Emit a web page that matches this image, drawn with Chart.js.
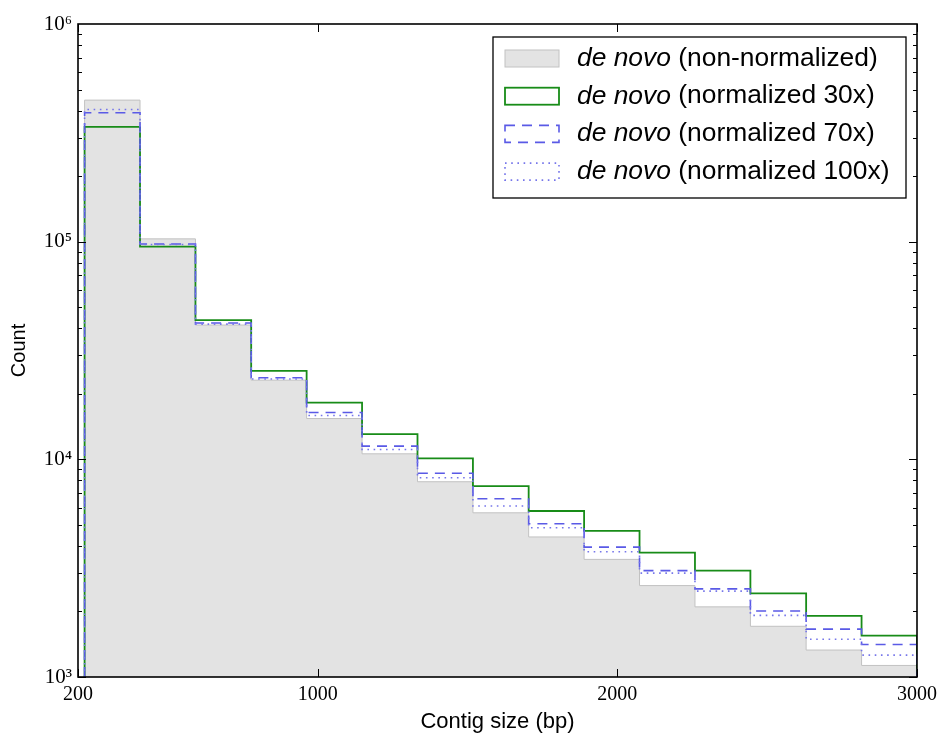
<!DOCTYPE html>
<html>
<head>
<meta charset="utf-8">
<script src="https://cdn.jsdelivr.net/npm/chart.js@4.4.1/dist/chart.umd.min.js"></script>
<style>
  html, body { margin: 0; padding: 0; background: #fff; }
  canvas { display: block; }
</style>
</head>
<body>
<canvas id="histChart" width="941" height="740"></canvas>
<script>
// bin edges (bp) and counts per bin
const binEdges = [222, 407, 592, 778, 963, 1148, 1333, 1518, 1704, 1889, 2074, 2259, 2444, 2630, 2815, 3000];
const countsRaw  = [447000, 103000, 41400, 23100, 15400, 10600, 7890, 5680, 4400, 3470, 2630, 2100, 1710, 1330, 1130];
const counts30x  = [337000, 94800, 43600, 25500, 18200, 13060, 10100, 7540, 5790, 4690, 3730, 3080, 2420, 1910, 1550];
const counts70x  = [391000, 97500, 42300, 23700, 16400, 11500, 8630, 6590, 5060, 3950, 3080, 2540, 2010, 1660, 1410];
const counts100x = [405000, 97000, 41800, 23400, 15900, 11100, 8230, 6100, 4850, 3760, 3000, 2480, 1920, 1490, 1260];
const seriesLabels = [
  "de novo (non-normalized)",
  "de novo (normalized 30x)",
  "de novo (normalized 70x)",
  "de novo (normalized 100x)"
];
const xTicks = [200, 1000, 2000, 3000];
const yTicks = [1000, 10000, 100000, 1000000];
const yMin = 1000;
const yMax = 1000000;

const SUP = { 3: "\u00b3", 4: "\u2074", 5: "\u2075", 6: "\u2076" };

// turn bin counts into step outline points
function stepPoints(counts) {
  const pts = [{ x: binEdges[0], y: yMin }];
  counts.forEach((c, i) => pts.push({ x: binEdges[i], y: c }));
  pts.push({ x: binEdges[binEdges.length - 1], y: counts[counts.length - 1] });
  pts.push({ x: binEdges[binEdges.length - 1], y: yMin });
  return pts;
}

// frame + inside ticks like matplotlib
const frameTicks = {
  id: "frameTicks",
  afterDatasetsDraw(chart) {
    const { ctx, chartArea: a, scales } = chart;
    const xs = scales.x, ys = scales.y;
    ctx.save();
    ctx.strokeStyle = "#000";
    ctx.lineWidth = 1;
    ctx.beginPath();
    xTicks.forEach(v => {
      const px = Math.round(xs.getPixelForValue(v)) + 0.5;
      ctx.moveTo(px, a.bottom); ctx.lineTo(px, a.bottom - 8);
      ctx.moveTo(px, a.top); ctx.lineTo(px, a.top + 8);
    });
    for (let d = 3; d < 6; d++) {
      for (let m = 1; m <= 9; m++) {
        const v = m * Math.pow(10, d);
        const py = Math.round(ys.getPixelForValue(v)) + 0.5;
        const len = m === 1 ? 8 : 4;
        ctx.moveTo(a.left, py); ctx.lineTo(a.left + len, py);
        ctx.moveTo(a.right, py); ctx.lineTo(a.right - len, py);
      }
    }
    ctx.stroke();
    ctx.lineWidth = 1.6;
    ctx.strokeRect(a.left, a.top, a.right - a.left, a.bottom - a.top);
    ctx.restore();
  }
};

// legend with italic "de novo"
const boxLegend = {
  id: "boxLegend",
  afterDraw(chart) {
    const { ctx, chartArea: a } = chart;
    const bx = a.left + 415, by = a.top + 13, bw = 413, bh = 161;
    ctx.save();
    ctx.fillStyle = "#fff";
    ctx.fillRect(bx, by, bw, bh);
    ctx.lineWidth = 1.3;
    ctx.strokeStyle = "#000";
    ctx.strokeRect(bx, by, bw, bh);
    chart.data.datasets.forEach((ds, i) => {
      const cy = by + 21.5 + i * 37.7;
      const hx = bx + 12, hw = 54, hh = 17;
      ctx.setLineDash(ds.borderDash || []);
      ctx.lineWidth = ds.borderWidth;
      ctx.strokeStyle = ds.borderColor;
      if (ds.fill) {
        ctx.fillStyle = ds.backgroundColor;
        ctx.fillRect(hx, cy - hh / 2, hw, hh);
      }
      ctx.strokeRect(hx, cy - hh / 2, hw, hh);
      ctx.setLineDash([]);
      const cut = ds.label.indexOf(" (");
      const ital = ds.label.slice(0, cut);
      const rest = ds.label.slice(cut);
      ctx.fillStyle = "#000";
      ctx.textBaseline = "middle";
      ctx.textAlign = "left";
      ctx.font = "italic 26.4px 'Liberation Sans', Arial, sans-serif";
      ctx.fillText(ital, bx + 84, cy);
      const w = ctx.measureText(ital).width;
      ctx.font = "26.4px 'Liberation Sans', Arial, sans-serif";
      ctx.fillText(rest, bx + 84 + w, cy);
    });
    ctx.restore();
  }
};

new Chart(document.getElementById("histChart"), {
  type: "line",
  data: {
    datasets: [
      {
        label: seriesLabels[0], data: stepPoints(countsRaw), order: 4,
        borderColor: "#c2c2c2", backgroundColor: "#e3e3e3", borderWidth: 1, fill: "start"
      },
      {
        label: seriesLabels[1], data: stepPoints(counts30x), order: 3,
        borderColor: "#188c18", borderWidth: 1.8, fill: false
      },
      {
        label: seriesLabels[2], data: stepPoints(counts70x), order: 2,
        borderColor: "#5a5ae6", borderWidth: 1.6, borderDash: [10, 7], fill: false
      },
      {
        label: seriesLabels[3], data: stepPoints(counts100x), order: 1,
        borderColor: "#7676ea", borderWidth: 1.6, borderDash: [1.6, 4.6], fill: false
      }
    ]
  },
  options: {
    responsive: false,
    animation: false,
    layout: { padding: { top: 24, right: 24, left: 0, bottom: 0 } },
    elements: { point: { radius: 0 }, line: { stepped: "before", tension: 0 } },
    plugins: { legend: { display: false }, tooltip: { enabled: false } },
    scales: {
      x: {
        type: "linear", min: 200, max: 3000,
        afterBuildTicks: s => { s.ticks = xTicks.map(v => ({ value: v })); },
        afterFit: s => { s.height = 63; s.paddingLeft = 0; s.paddingRight = 0; },
        grid: { display: false, drawTicks: false },
        border: { display: false },
        ticks: {
          color: "#000", padding: 6, maxRotation: 0, autoSkip: false,
          callback: v => String(v),
          font: { family: "'Liberation Serif', 'DejaVu Serif', serif", size: 20 }
        },
        title: {
          display: true, text: "Contig size (bp)", color: "#000",
          font: { family: "'Liberation Sans', Arial, sans-serif", size: 22 },
          padding: { top: 0, bottom: 5 }
        }
      },
      y: {
        type: "logarithmic", min: yMin, max: yMax,
        afterBuildTicks: s => { s.ticks = yTicks.map(v => ({ value: v })); },
        afterFit: s => { s.width = 78; s.paddingTop = 0; s.paddingBottom = 0; },
        grid: { display: false, drawTicks: false },
        border: { display: false },
        ticks: {
          color: "#000", padding: 6,
          callback: v => "10" + SUP[Math.round(Math.log10(v))],
          font: { family: "'Liberation Serif', 'DejaVu Serif', serif", size: 21 }
        },
        title: {
          display: true, text: "Count", color: "#000",
          font: { family: "'Liberation Sans', Arial, sans-serif", size: 20 },
          padding: { top: 7, bottom: 0 }
        }
      }
    }
  },
  plugins: [frameTicks, boxLegend]
});
</script>
</body>
</html>
